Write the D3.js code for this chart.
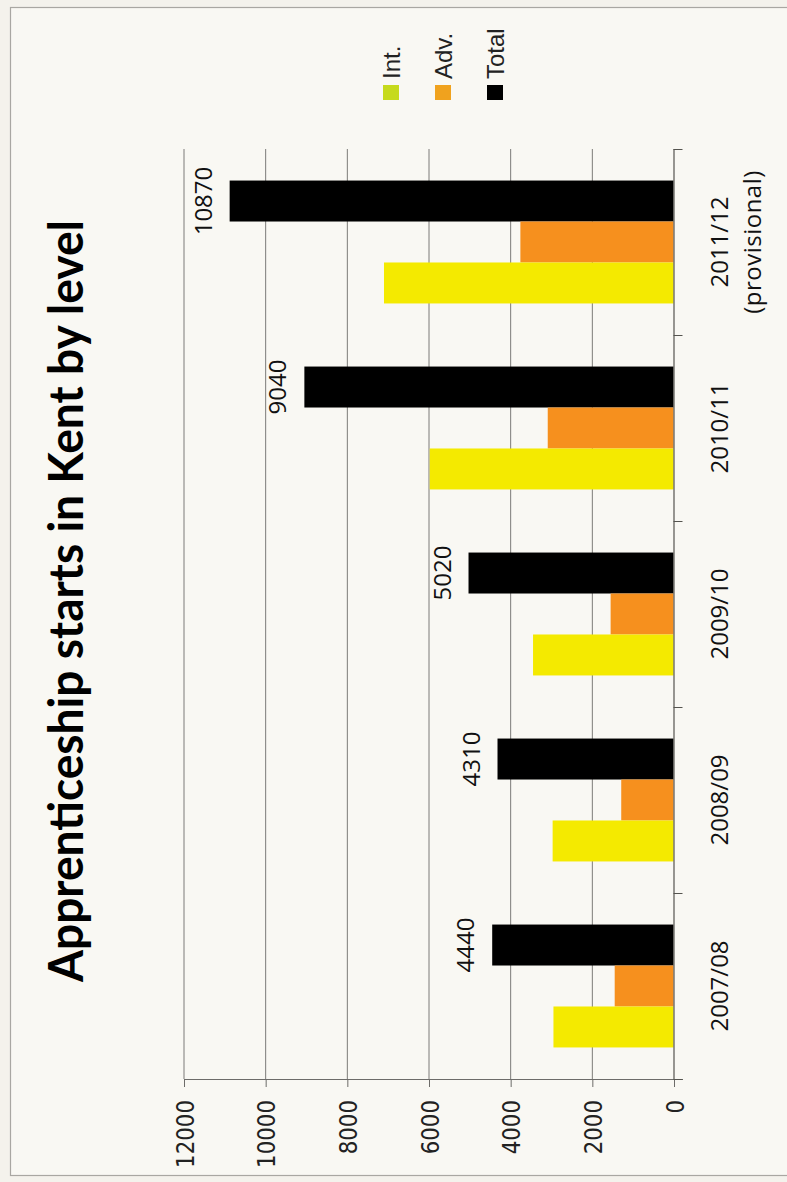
<!DOCTYPE html>
<html>
<head>
<meta charset="utf-8">
<script src="https://cdn.jsdelivr.net/npm/d3@7/dist/d3.min.js"></script>
<style>
  html, body { margin: 0; padding: 0; background: #f4f2ec; }
  svg { display: block; }
</style>
</head>
<body>
<svg id="chart" width="787" height="1182"></svg>
<script>
// ---- Data ----
const categories = ["2007/08", "2008/09", "2009/10", "2010/11", "2011/12"];
const categoryNotes = ["", "", "", "", "(provisional)"];
const intValues = [2940, 2960, 3440, 5970, 7090];
const advValues = [1440, 1280, 1540, 3080, 3750];
const totalValues = [4440, 4310, 5020, 9040, 10870];
const valueTicks = [0, 2000, 4000, 6000, 8000, 10000, 12000];
const seriesNames = ["Int.", "Adv.", "Total"];
const titleText = "Apprenticeship starts in Kent by level";

// ---- Styles ----
const barColors = { "Int.": "#f4ea00", "Adv.": "#f6901e", "Total": "#000000" };
const legendColors = { "Int.": "#c6da1c", "Adv.": "#f0a21e", "Total": "#000000" };

const svg = d3.select("#chart");

// background + frame
svg.append("rect").attr("x", 0).attr("y", 0).attr("width", 787).attr("height", 1182).attr("fill", "#f4f2ec");
svg.append("rect").attr("x", 10.5).attr("y", 7.5).attr("width", 800).attr("height", 1168)
  .attr("fill", "#f9f8f3").attr("stroke", "#a9a7a2").attr("stroke-width", 1.2);

// scales (chart is rotated: values run right-to-left, categories bottom-to-top)
const x = d3.scaleLinear().domain([0, 12000]).range([673.5, 183.5]);
const y = d3.scaleBand().domain(categories).range([1079, 149]).padding(0);
const inner = d3.scaleBand().domain(["Total", "Adv.", "Int."]).range([0, y.bandwidth()])
  .paddingInner(0).paddingOuter(0.77);

const plotTop = 149, plotBottom = 1079;

// gridlines
svg.append("g").selectAll("line").data(valueTicks.filter(d => d > 0)).join("line")
  .attr("x1", d => x(d) + 0.5).attr("x2", d => x(d) + 0.5)
  .attr("y1", plotTop).attr("y2", plotBottom)
  .attr("stroke", "#7c7b78").attr("stroke-width", 1);

// bars
const rows = categories.map((c, i) => ({
  cat: c, note: categoryNotes[i],
  values: [
    { key: "Total", v: totalValues[i] },
    { key: "Adv.", v: advValues[i] },
    { key: "Int.", v: intValues[i] }
  ]
}));

const groups = svg.append("g").selectAll("g").data(rows).join("g")
  .attr("transform", d => `translate(0,${y(d.cat)})`);

groups.selectAll("rect").data(d => d.values).join("rect")
  .attr("x", d => x(d.v))
  .attr("y", d => inner(d.key))
  .attr("width", d => x(0) - x(d.v))
  .attr("height", inner.bandwidth())
  .attr("fill", d => barColors[d.key]);

// total value labels
groups.append("text")
  .attr("transform", (d, i) => `translate(${x(totalValues[i]) - 18},${inner("Total") + inner.bandwidth() / 2}) rotate(-90)`)
  .attr("text-anchor", "middle")
  .attr("font-family", "'Open Sans', sans-serif")
  .attr("font-size", 24)
  .attr("fill", "#111")
  .text((d, i) => totalValues[i]);

// value axis (bottom)
const xAxis = d3.axisBottom(x).tickValues(valueTicks).tickSize(8).tickFormat("");
const ax = svg.append("g").attr("transform", `translate(0.5,${plotBottom})`).call(xAxis);
ax.select(".domain").attr("stroke", "#6d6c69").attr("d", `M${x(12000)},0.5H${x(0) + 9}`);
ax.selectAll(".tick line").attr("stroke", "#6d6c69");

svg.append("g").selectAll("text").data(valueTicks).join("text")
  .attr("transform", d => `translate(${x(d) + 10},1100) rotate(-90) scale(0.89,1)`)
  .attr("text-anchor", "end")
  .attr("font-family", "'DejaVu Sans', sans-serif")
  .attr("font-size", 24)
  .attr("fill", "#222")
  .text(d => d);

// category axis (right side, vertical)
svg.append("line").attr("x1", x(0) + 0.5).attr("x2", x(0) + 0.5)
  .attr("y1", plotTop).attr("y2", plotBottom).attr("stroke", "#55544f").attr("stroke-width", 1.2);
const boundaries = categories.map(c => y(c)).concat([y(categories[0]) + y.bandwidth()]);
svg.append("g").selectAll("line").data(boundaries).join("line")
  .attr("x1", x(0)).attr("x2", x(0) + 9)
  .attr("y1", d => d + 0.5).attr("y2", d => d + 0.5)
  .attr("stroke", "#55544f");

const catLabels = svg.append("g").selectAll("g").data(rows).join("g")
  .attr("transform", d => `translate(0,${y(d.cat) + y.bandwidth() / 2})`);
catLabels.append("text")
  .attr("transform", "translate(728,0) rotate(-90)")
  .attr("text-anchor", "middle")
  .attr("font-family", "'Open Sans', sans-serif")
  .attr("font-size", 24).attr("fill", "#111")
  .text(d => d.cat);
catLabels.filter(d => d.note).append("text")
  .attr("transform", "translate(761,0) rotate(-90)")
  .attr("text-anchor", "middle")
  .attr("font-family", "'Open Sans', sans-serif")
  .attr("font-size", 24).attr("fill", "#111")
  .attr("letter-spacing", 0.5)
  .text(d => d.note);

// legend
const legend = svg.append("g").selectAll("g").data(seriesNames).join("g")
  .attr("transform", (d, i) => `translate(${383 + i * 52},0)`);
legend.append("rect").attr("x", 0).attr("y", 85).attr("width", 16).attr("height", 15)
  .attr("fill", d => legendColors[d]);
legend.append("text")
  .attr("transform", "translate(17,79) rotate(-90)")
  .attr("text-anchor", "start")
  .attr("font-family", "'Liberation Sans', Arial, sans-serif")
  .attr("font-size", 24).attr("fill", "#222")
  .text(d => d);

// title
svg.append("text")
  .attr("transform", "translate(83,601) rotate(-90)")
  .attr("text-anchor", "middle")
  .attr("font-family", "Lato, 'Open Sans', sans-serif")
  .attr("font-weight", 700)
  .attr("font-size", 47)
  .attr("fill", "#000")
  .attr("textLength", 762)
  .attr("lengthAdjust", "spacingAndGlyphs")
  .text(titleText);
</script>
</body>
</html>
